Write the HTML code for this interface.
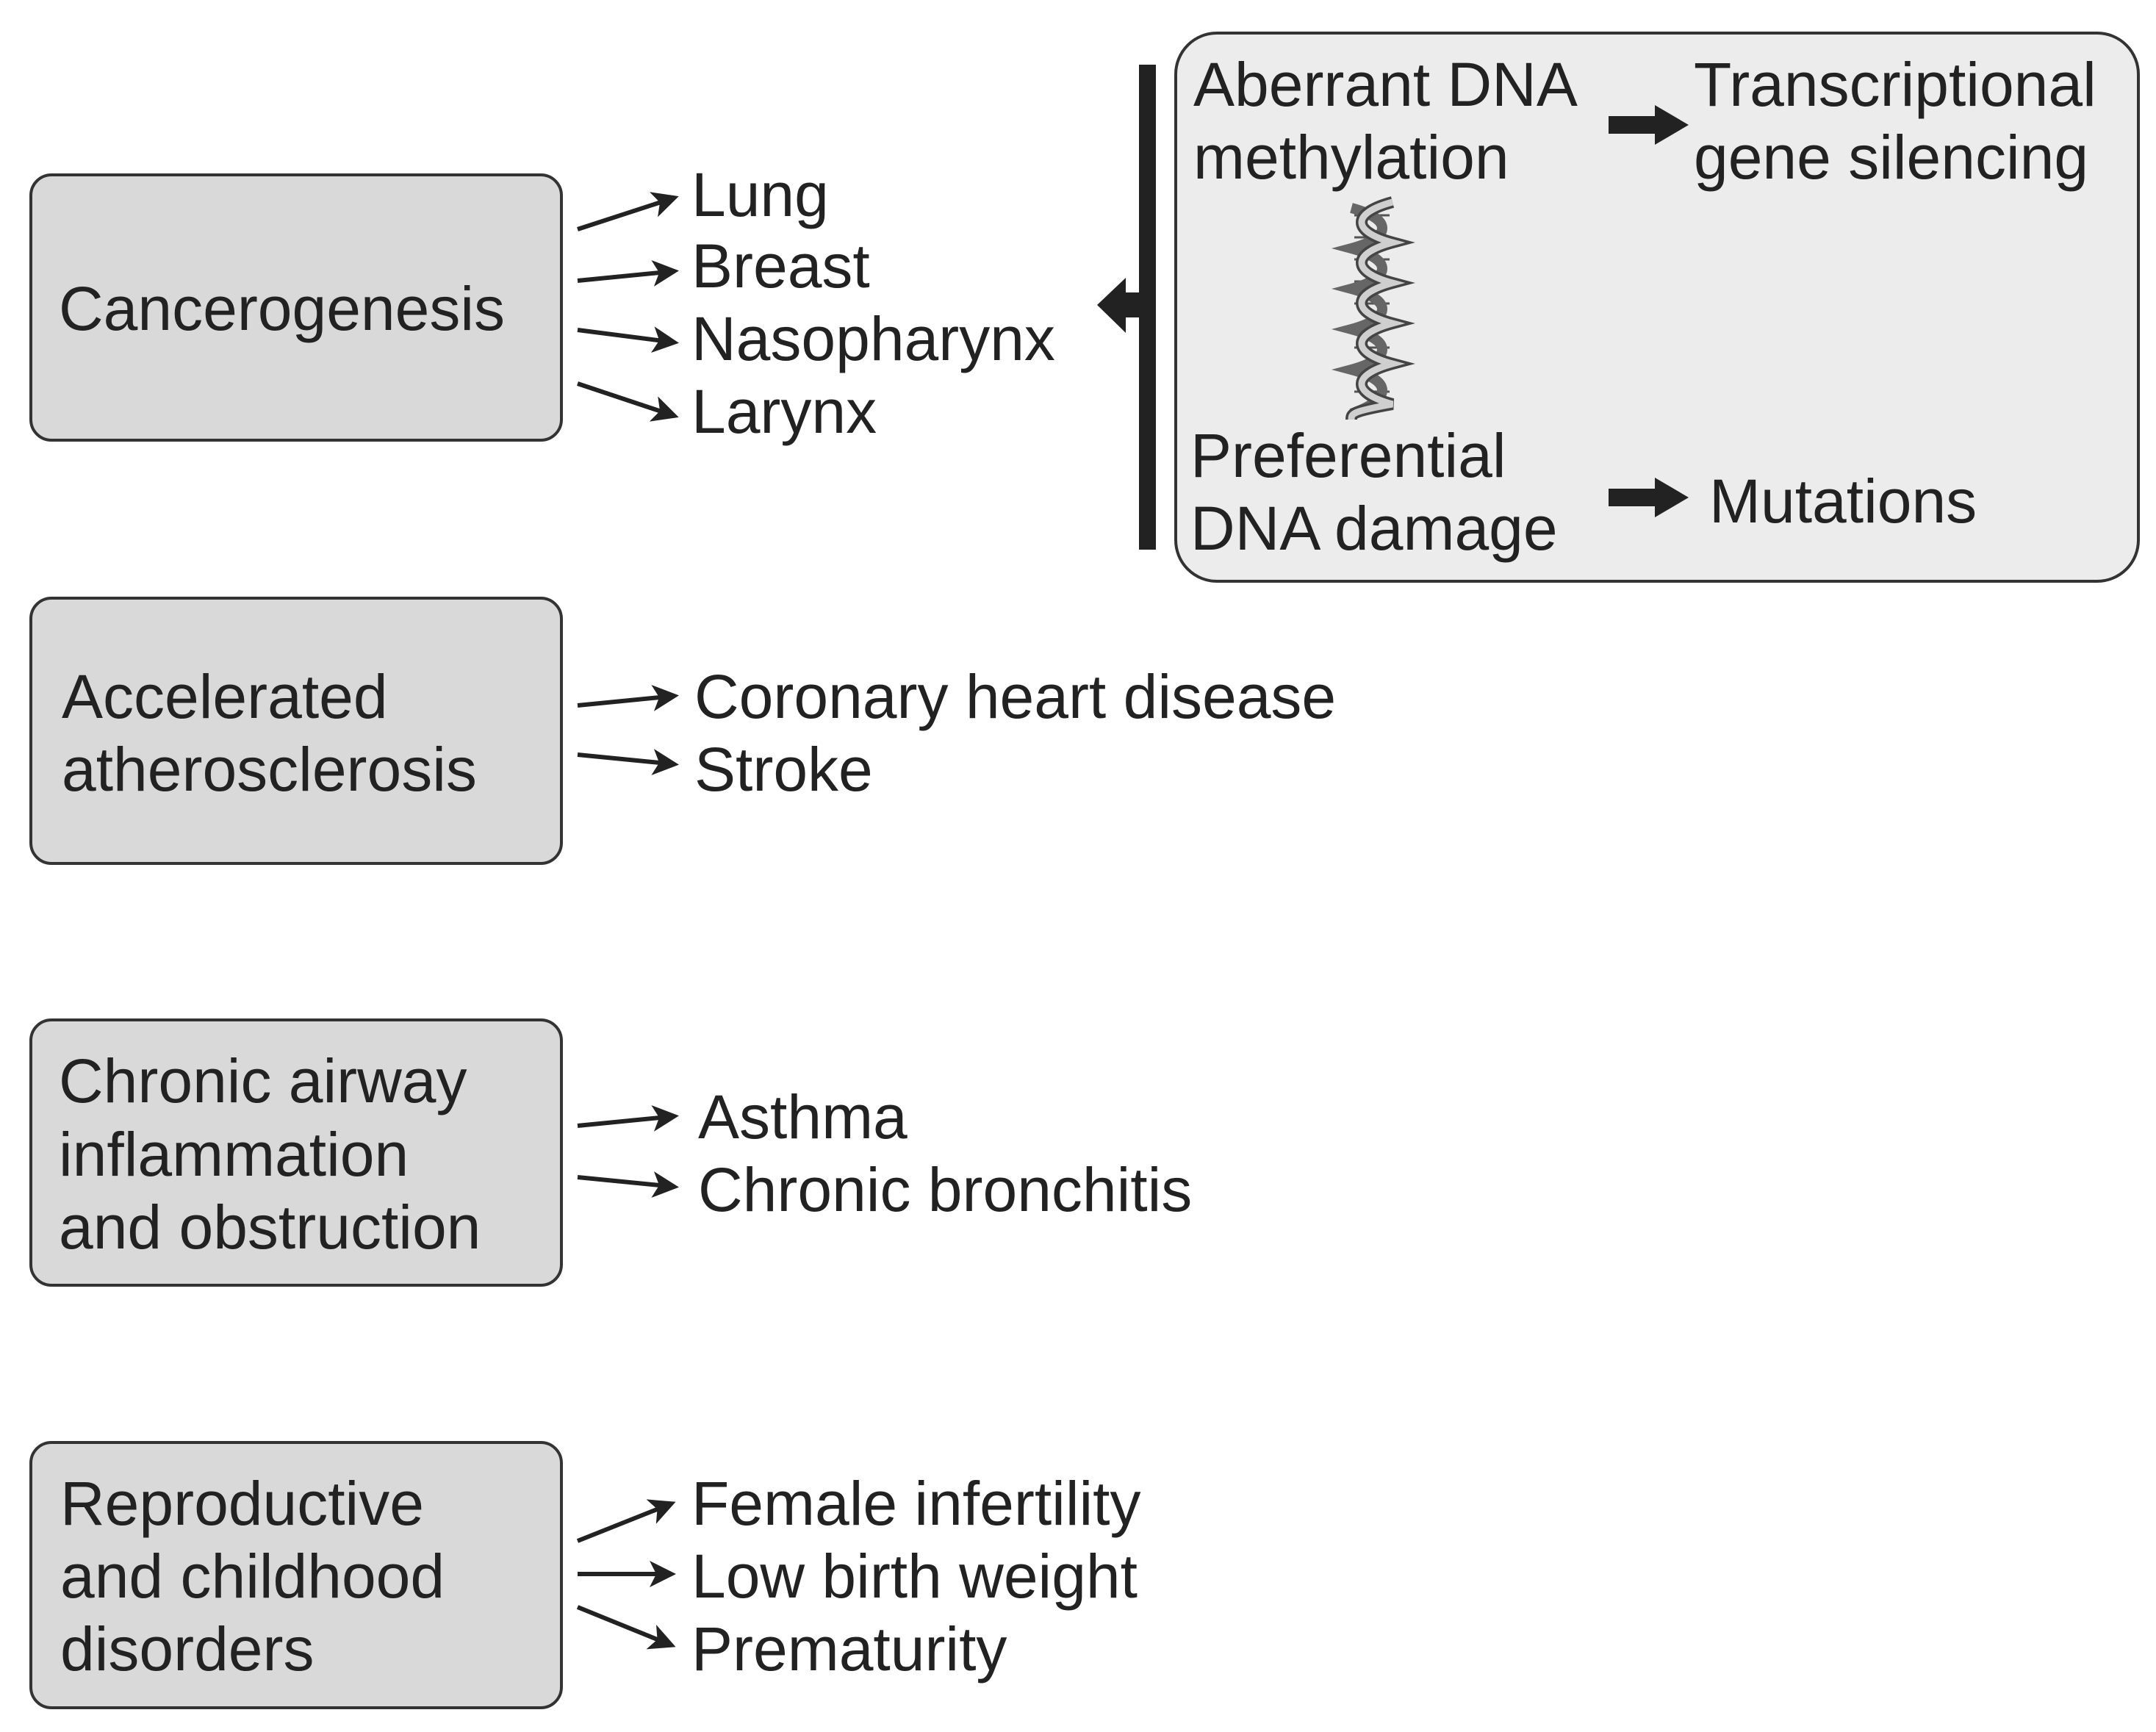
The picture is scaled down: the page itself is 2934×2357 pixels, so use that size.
<!DOCTYPE html>
<html><head><meta charset="utf-8"><style>
html,body{margin:0;padding:0;background:#fff}
svg{display:block}
text{font-family:"Liberation Sans",Arial,sans-serif;font-size:84px;fill:#222}
</style></head><body>
<svg width="2934" height="2357" viewBox="0 0 2934 2357" xmlns="http://www.w3.org/2000/svg">
<defs>
<marker id="ah" markerWidth="6" markerHeight="6" refX="5" refY="3" orient="auto" markerUnits="strokeWidth">
<path d="M0,0 L6,3 L0,6 L1.5,3 Z" fill="#222"/>
</marker>
</defs>
<g fill="#d9d9d9" stroke="#333" stroke-width="4">
<rect x="42" y="238" width="722" height="361" rx="28"/>
<rect x="42" y="814" width="722" height="361" rx="28"/>
<rect x="42" y="1388" width="722" height="361" rx="28"/>
<rect x="42" y="1963" width="722" height="361" rx="28"/>
</g>
<rect x="1600" y="45" width="1310" height="746" rx="56" fill="#ececec" stroke="#333" stroke-width="4"/>

<text x="80" y="449">Cancerogenesis</text>
<text x="84" y="977">Accelerated</text>
<text x="84" y="1076">atherosclerosis</text>
<text x="80" y="1500">Chronic airway</text>
<text x="80" y="1600">inflammation</text>
<text x="80" y="1699">and obstruction</text>
<text x="82" y="2075">Reproductive</text>
<text x="82" y="2174">and childhood</text>
<text x="82" y="2273">disorders</text>

<text x="941" y="294">Lung</text>
<text x="941" y="391">Breast</text>
<text x="941" y="490">Nasopharynx</text>
<text x="941" y="589">Larynx</text>
<text x="945" y="977">Coronary heart disease</text>
<text x="945" y="1076">Stroke</text>
<text x="950" y="1549">Asthma</text>
<text x="950" y="1648">Chronic bronchitis</text>
<text x="941" y="2075">Female infertility</text>
<text x="941" y="2174">Low birth weight</text>
<text x="941" y="2273">Prematurity</text>

<text x="1624" y="144">Aberrant DNA</text>
<text x="1624" y="243">methylation</text>
<text x="2305" y="144">Transcriptional</text>
<text x="2305" y="243">gene silencing</text>
<text x="1620" y="649">Preferential</text>
<text x="1620" y="748">DNA damage</text>
<text x="2326" y="711">Mutations</text>

<g stroke="#222" stroke-width="6" fill="none" marker-end="url(#ah)">
<line x1="786" y1="312" x2="918" y2="269"/>
<line x1="786" y1="382" x2="918" y2="369"/>
<line x1="786" y1="449" x2="918" y2="466"/>
<line x1="786" y1="522" x2="918" y2="566"/>
<line x1="786" y1="960" x2="918" y2="947"/>
<line x1="786" y1="1027" x2="918" y2="1040"/>
<line x1="786" y1="1532" x2="918" y2="1519"/>
<line x1="786" y1="1602" x2="918" y2="1615"/>
<line x1="786" y1="2097" x2="914" y2="2046"/>
<line x1="786" y1="2142" x2="914" y2="2142"/>
<line x1="786" y1="2187" x2="914" y2="2239"/>
</g>

<rect x="1550" y="88" width="23" height="660" fill="#222"/>
<polygon points="1493,415 1532,378 1532,398 1552,398 1552,432 1532,432 1532,453" fill="#222"/>
<polygon points="2189,158 2252,158 2252,143 2298,170 2252,197 2252,182 2189,182" fill="#222"/>
<polygon points="2189,665 2252,665 2252,650 2298,677 2252,704 2252,689 2189,689" fill="#222"/>

<g transform="translate(1867,423)">
<g stroke="#555" stroke-width="3">
<line x1="-24" y1="-130" x2="24" y2="-130"/><line x1="-24" y1="-100" x2="24" y2="-100"/>
<line x1="-24" y1="-70" x2="24" y2="-70"/><line x1="-24" y1="-40" x2="24" y2="-40"/>
<line x1="-24" y1="-10" x2="24" y2="-10"/><line x1="-24" y1="20" x2="24" y2="20"/>
<line x1="-24" y1="50" x2="24" y2="50"/><line x1="-24" y1="80" x2="24" y2="80"/>
<line x1="-24" y1="110" x2="24" y2="110"/>
</g>
<path d="M-28,-140 C28,-125 28,-100 -28,-85 C28,-70 28,-45 -28,-30 C28,-15 28,10 -28,25 C28,40 28,65 -28,80 C28,95 28,120 -28,140" fill="none" stroke="#666" stroke-width="14"/>
<path d="M28,-148 C-28,-133 -28,-108 28,-93 C-28,-78 -28,-53 28,-38 C-28,-23 -28,2 28,17 C-28,32 -28,57 28,72 C-28,87 -28,112 28,127 C-28,137 -28,140 -28,148" fill="none" stroke="#444" stroke-width="16"/>
<path d="M28,-148 C-28,-133 -28,-108 28,-93 C-28,-78 -28,-53 28,-38 C-28,-23 -28,2 28,17 C-28,32 -28,57 28,72 C-28,87 -28,112 28,127 C-28,137 -28,140 -28,148" fill="none" stroke="#cfcfcf" stroke-width="9"/>
</g>
</svg>
</body></html>
